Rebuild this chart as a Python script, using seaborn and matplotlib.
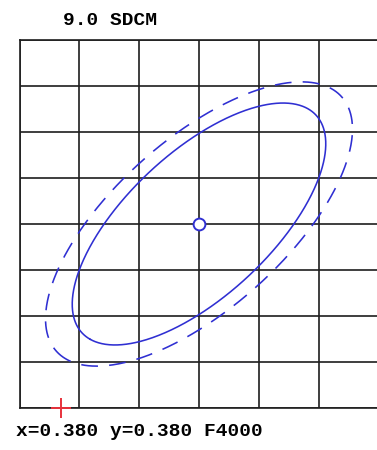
import numpy as np
import pandas as pd
import matplotlib
matplotlib.use("Agg")
import matplotlib.pyplot as plt
import seaborn as sns

# ---- data ----
title_text = "9.0 SDCM"
info_text = "x=0.380 y=0.380 F4000"
center_x = 0.380
center_y = 0.380
steps = 9.0
ellipse_names = ["inner", "outer"]
g11 = [32.2e4, 22.2e4]
g12 = [-17.2e4, -12.3e4]
g22 = [20.9e4, 15.3e4]
x_ticks = [0.35, 0.36, 0.37, 0.38, 0.39, 0.40, 0.41]
y_ticks = [0.34, 0.35, 0.36, 0.37, 0.38, 0.39, 0.40, 0.41, 0.42]
marker_x = 0.357
marker_y = 0.340

# ---- style ----
sns.set_style("white")
plt.rcParams['font.family'] = ['Liberation Mono', 'DejaVu Sans Mono']

W, H = 377, 450
fig = plt.figure(figsize=(W / 100, H / 100), dpi=100)
ax = fig.add_axes([19.5 / W, 1 - 408 / H, 359 / W, 368 / H])

blue = "#2f2fd2"
t = np.linspace(0, 2 * np.pi, 721)
for i, name in enumerate(ellipse_names):
    M = np.array([[g11[i], g12[i]], [g12[i], g22[i]]])
    w, V = np.linalg.eigh(M)
    circ = np.vstack([np.cos(t), np.sin(t)]) * (steps / np.sqrt(w))[:, None]
    pts = V @ circ
    df = pd.DataFrame({"x": center_x + pts[0], "y": center_y + pts[1]})
    sns.lineplot(data=df, x="x", y="y", sort=False, estimator=None,
                 color=blue, linewidth=1.15, ax=ax)
    if name == "outer":
        ax.lines[-1].set_dashes((10.5, 7.0))

ax.plot([center_x], [center_y], marker="o", ms=8.5, mfc="white",
        mec=blue, mew=1.4, zorder=5)
ax.plot([marker_x], [marker_y], marker="+", ms=15, color="#e8323c",
        mew=1.4, clip_on=False, zorder=6)

ax.set_xlim(x_ticks[0], x_ticks[-1])
ax.set_ylim(y_ticks[0], y_ticks[-1])
ax.set_xticks(x_ticks)
ax.set_yticks(y_ticks)
ax.set_xticklabels([])
ax.set_yticklabels([])
ax.tick_params(length=0)
ax.grid(True, color="#1e1e1e", linewidth=1.2)
ax.set_axisbelow(True)
for s in ax.spines.values():
    s.set_color("#1e1e1e")
    s.set_linewidth(1.2)
ax.set_xlabel("")
ax.set_ylabel("")

fig.text(63 / W, 1 - 25 / H, title_text, fontsize=14, fontweight="bold",
         color="#000000", va="baseline", ha="left")
fig.text(16 / W, 1 - 436 / H, info_text, fontsize=14, fontweight="bold",
         color="#000000", va="baseline", ha="left")

fig.savefig("out.png", dpi=100)
